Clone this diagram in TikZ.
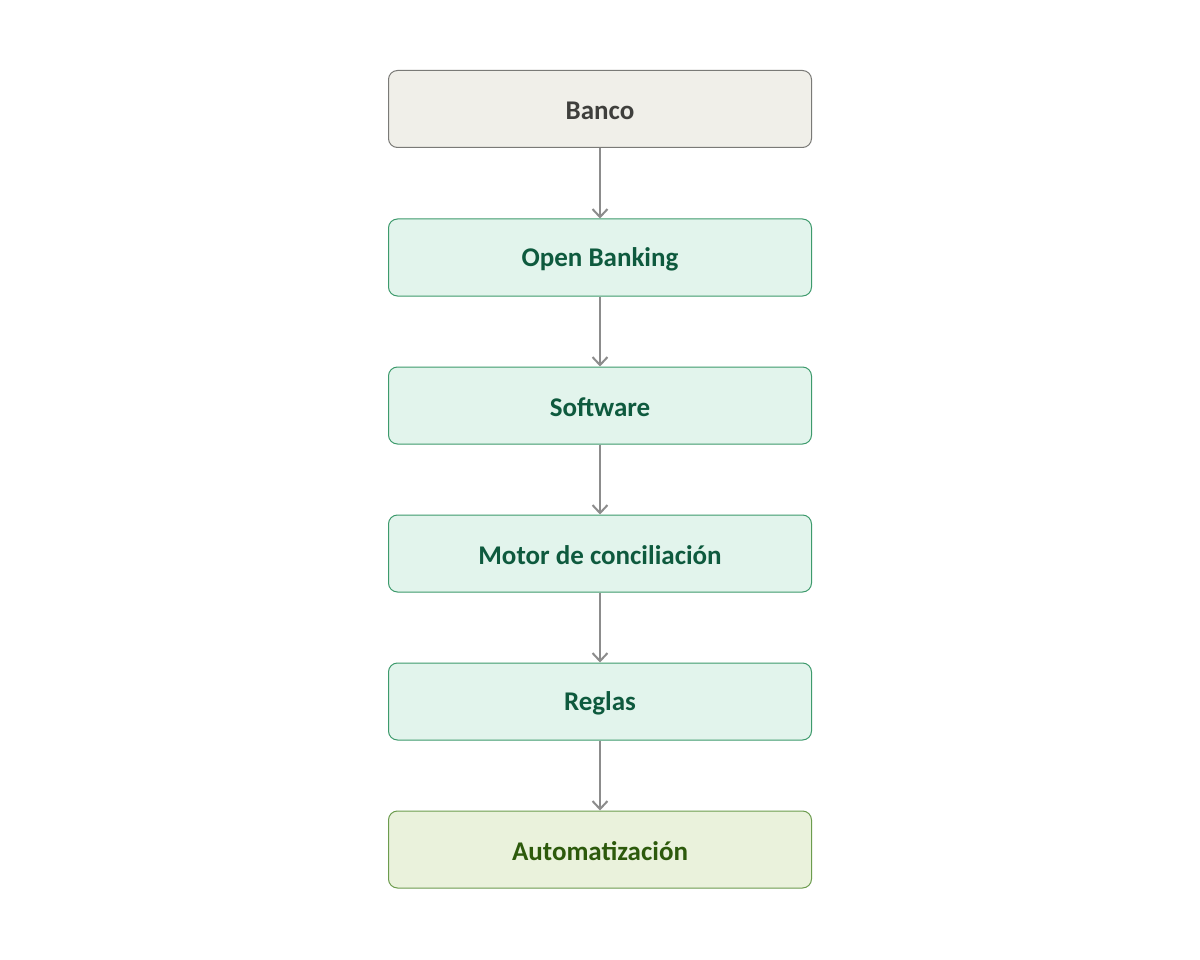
\documentclass[tikz,border=0pt]{standalone}
\usepackage{fontspec}
\setmainfont{Carlito}
\usetikzlibrary{arrows.meta}
\begin{document}
\begin{tikzpicture}[x=1pt,y=-1pt,
box/.style={draw=#1,rounded corners=9pt,line width=1pt,minimum width=423pt,minimum height=77pt},
lbl/.style={font=\fontsize{27}{30}\selectfont\bfseries},
arr/.style={draw=black!45,line width=2.4pt,-{Straight Barb[length=8pt,width=15pt,line width=2pt]}}]
\fill[white] (0,0) rectangle (1200,960);
\definecolor{gb}{HTML}{F0EFE9}\definecolor{gd}{HTML}{7A7A77}\definecolor{gt}{HTML}{3F3F3C}
\definecolor{mb}{HTML}{E2F4EC}\definecolor{md}{HTML}{3D9A6C}\definecolor{mt}{HTML}{0E5A3E}
\definecolor{lb}{HTML}{EAF2DC}\definecolor{ld}{HTML}{6C9C4E}\definecolor{lt}{HTML}{2D5A0C}
\node[box=gd,fill=gb] (a) at (600,109) {};
\node[box=md,fill=mb] (b) at (600,257.5) {};
\node[box=md,fill=mb] (c) at (600,405.5) {};
\node[box=md,fill=mb] (d) at (600,553.5) {};
\node[box=md,fill=mb] (e) at (600,701.5) {};
\node[box=ld,fill=lb] (f) at (600,849.5) {};
\node[lbl,text=gt] (ta) at ([yshift=-2pt]a.center) {Banco};
\node[lbl,text=mt] (tb) at ([yshift=-2pt]b.center) {Open Banking};
\node[lbl,text=mt] (tc) at ([yshift=-2pt]c.center) {Software};
\node[lbl,text=mt] (td) at ([yshift=-2pt]d.center) {Motor de conciliación};
\node[lbl,text=mt] (te) at ([yshift=-2pt]e.center) {Reglas};
\node[lbl,text=lt] (tf) at ([yshift=-2pt]f.center) {Automatización};
\foreach \u/\v in {a/b,b/c,c/d,d/e,e/f} \draw[arr] (\u) -- (\v);
\end{tikzpicture}
\end{document}
